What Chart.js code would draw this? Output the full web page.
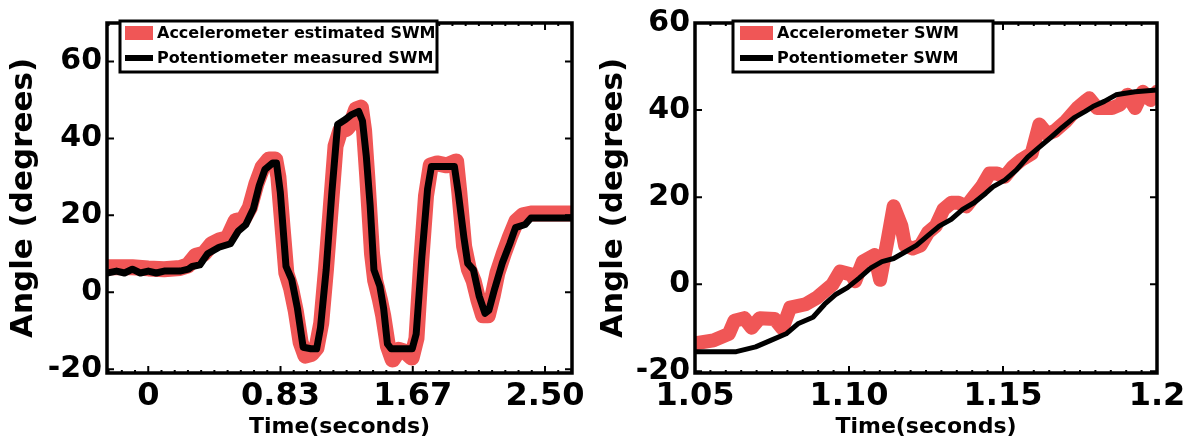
<!DOCTYPE html>
<html>
<head>
<meta charset="utf-8">
<script src="https://cdn.jsdelivr.net/npm/chart.js@4.4.0/dist/chart.umd.min.js"></script>
<style>
  html, body { margin: 0; padding: 0; background: #fff; }
  #wrap { position: relative; width: 1193px; height: 445px; }
  #c1 { position: absolute; left: 0; top: 0; }
  #c2 { position: absolute; left: 590px; top: 0; }
</style>
</head>
<body>
<div id="wrap">
  <canvas id="c1" width="590" height="445"></canvas>
  <canvas id="c2" width="603" height="445"></canvas>
</div>
<script>
// left panel: whole trial
const leftTicksX = [0, 0.8333, 1.6667, 2.5];
const leftTickLabelsX = ['0', '0.83', '1.67', '2.50'];
const leftTicksY = [-20, 0, 20, 40, 60];

const leftAccT = [-0.26, -0.1, 0.0, 0.1, 0.2, 0.25, 0.3, 0.35, 0.4, 0.45, 0.5, 0.55, 0.6, 0.64, 0.68, 0.72, 0.76, 0.8,
  0.82, 0.85, 0.87, 0.9, 0.93, 0.96, 0.99, 1.03, 1.06, 1.09, 1.12, 1.15, 1.18, 1.21, 1.25, 1.28, 1.31, 1.34, 1.36,
  1.38, 1.41, 1.43, 1.46, 1.48, 1.51, 1.54, 1.58, 1.62, 1.66, 1.69, 1.72, 1.75, 1.78, 1.82, 1.88, 1.94, 1.96, 1.99,
  2.02, 2.05, 2.08, 2.11, 2.14, 2.17, 2.2, 2.24, 2.28, 2.32, 2.36, 2.42, 2.68];
const leftAccDeg = [6.5, 6.5, 6.2, 6.0, 6.3, 7.0, 9.5, 10.0, 12.5, 13.5, 14.0, 18.5, 19.0, 22.0, 28.0, 32.5, 34.5, 34.5,
  30.0, 15.0, 5.0, 1.0, -5.0, -13.0, -16.5, -16.0, -14.5, -8.0, 6.0, 22.0, 38.0, 42.0, 42.5, 44.0, 47.5, 48.0, 42.0,
  30.0, 10.0, 3.0, -2.0, -6.0, -14.0, -17.5, -15.0, -15.5, -17.0, -12.0, 8.0, 25.0, 33.0, 33.5, 33.0, 34.0, 26.0, 12.0,
  6.0, 3.0, -2.0, -6.0, -6.0, -1.0, 5.0, 10.0, 14.5, 18.5, 20.0, 20.5, 20.5];

const leftPotT = [-0.26, -0.2, -0.15, -0.1, -0.05, 0, 0.05, 0.1, 0.15, 0.2, 0.253, 0.277, 0.325, 0.374, 0.446, 0.518,
  0.567, 0.615, 0.663, 0.699, 0.735, 0.784, 0.808, 0.832, 0.868, 0.904, 0.94, 0.976, 1.025, 1.061, 1.085, 1.121,
  1.157, 1.193, 1.242, 1.278, 1.326, 1.35, 1.374, 1.398, 1.422, 1.459, 1.483, 1.507, 1.531, 1.627, 1.663, 1.688,
  1.724, 1.76, 1.784, 1.844, 1.929, 1.953, 1.989, 2.013, 2.049, 2.085, 2.122, 2.146, 2.182, 2.23, 2.278, 2.314,
  2.375, 2.411, 2.68];
const leftPotDeg = [5, 5.5, 5, 6, 5, 5.5, 5, 5.5, 5.5, 5.5, 6, 6.7, 7.1, 10, 11.7, 12.6, 15.9, 17.6, 21.8, 27.7, 31.9,
  33.6, 33.6, 26, 6.7, 3.3, -4.2, -14.3, -14.7, -14.7, -9.3, 5.8, 26, 43.6, 44.9, 46.1, 47, 44.5, 35.3, 22.7, 5.8,
  1.6, -4.2, -13.4, -14.7, -14.7, -14.7, -10.9, 9.2, 26.8, 32.7, 32.7, 32.7, 26, 14.2, 7.5, 5.8, -1, -5.5, -4.7, 0.8,
  7.5, 12.6, 16.8, 17.6, 19.3, 19.3];

// right panel: zoom on the second swing
const rightTicksX = [1.05, 1.10, 1.15, 1.2];
const rightTickLabelsX = ['1.05', '1.10', '1.15', '1.2'];
const rightTicksY = [-20, 0, 20, 40, 60];

const rightAccT = [1.05, 1.056, 1.061, 1.0628, 1.066, 1.0684, 1.071, 1.0759, 1.0784, 1.0809, 1.0859, 1.0896, 1.0921,
  1.0946, 1.0971, 1.1008, 1.102, 1.1045, 1.1083, 1.1101, 1.1126, 1.1145, 1.117, 1.1182, 1.1207, 1.1232, 1.1257,
  1.1282, 1.1307, 1.1332, 1.1356, 1.1381, 1.1406, 1.1431, 1.1456, 1.1481, 1.1506, 1.1531, 1.1556, 1.1593, 1.1618,
  1.1643, 1.1668, 1.1705, 1.1742, 1.1767, 1.178, 1.1805, 1.1854, 1.1879, 1.1904, 1.1929, 1.1954, 1.1979, 1.2];
const rightAccDeg = [-13.6, -12.9, -11.4, -8.4, -7.8, -10, -7.8, -8.0, -10.2, -5.4, -4.6, -3.1, -1.6, -0.1, 2.9, 2.2,
  0.7, 5.2, 6.7, 1.0, 10.4, 17.9, 13.4, 8.9, 8.2, 8.9, 11.9, 13.4, 17.2, 18.7, 18.7, 17.9, 20.2, 22.4, 25.4, 25.4,
  24.7, 26.9, 28.4, 30, 36.7, 34.5, 35.2, 37.5, 40.5, 42, 42.7, 40.5, 40.5, 41.2, 43.5, 40.5, 44.2, 42.3, 44.2];

const rightPotT = [1.05, 1.0634, 1.0697, 1.0746, 1.0796, 1.0834, 1.0883, 1.0921, 1.0958, 1.0995, 1.1033, 1.107,
  1.1107, 1.1145, 1.1182, 1.1219, 1.1257, 1.1294, 1.1332, 1.1369, 1.1406, 1.1444, 1.1468, 1.1506, 1.1543, 1.158,
  1.1618, 1.1655, 1.1692, 1.173, 1.1767, 1.1792, 1.1829, 1.1867, 1.1892, 1.1929, 1.2];
const rightPotDeg = [-15.5, -15.5, -14.4, -12.9, -11.4, -9.1, -7.6, -4.6, -2.3, -0.8, 1.4, 3.7, 5.2, 5.9, 7.4, 8.9,
  11.2, 13.4, 14.9, 17.2, 18.7, 20.9, 22.4, 23.9, 26.2, 29.2, 31.5, 33.7, 36, 38.2, 39.7, 40.8, 42, 43.5, 43.8,
  44.2, 44.6];

const RED = '#F05656';

Chart.defaults.font.family = '"DejaVu Sans", sans-serif';
Chart.defaults.font.weight = 'bold';
Chart.defaults.color = '#000';

function pts(t, d) {
  return t.map((v, i) => ({x: v, y: d[i]}));
}

// matlab style box with inward ticks
const frame = {
  id: 'frame',
  afterDatasetsDraw(chart, args, o) {
    const {ctx, chartArea: a, scales: {x, y}} = chart;
    ctx.save();
    ctx.strokeStyle = '#000';
    ctx.lineWidth = 2;
    ctx.beginPath();
    const n0 = Math.ceil(x.min / o.minorStep - 1e-6), n1 = Math.floor(x.max / o.minorStep + 1e-6);
    for (let n = n0; n <= n1; n++) {
      const px = x.getPixelForValue(n * o.minorStep);
      ctx.moveTo(px, a.bottom); ctx.lineTo(px, a.bottom - 3);
      ctx.moveTo(px, a.top); ctx.lineTo(px, a.top + 3);
    }
    x.ticks.forEach(t => {
      const px = x.getPixelForValue(t.value);
      ctx.moveTo(px, a.bottom); ctx.lineTo(px, a.bottom - 7);
      ctx.moveTo(px, a.top); ctx.lineTo(px, a.top + 7);
    });
    y.ticks.forEach(t => {
      const py = y.getPixelForValue(t.value);
      ctx.moveTo(a.left, py); ctx.lineTo(a.left + 7, py);
      ctx.moveTo(a.right, py); ctx.lineTo(a.right - 7, py);
    });
    ctx.stroke();
    ctx.lineWidth = 3.5;
    ctx.strokeRect(a.left, a.top, a.right - a.left, a.bottom - a.top);
    ctx.restore();
  }
};

const boxLegend = {
  id: 'boxLegend',
  afterDraw(chart, args, o) {
    const {ctx, chartArea: a} = chart;
    const x0 = a.left + o.dx, y0 = 21, h = 51;
    ctx.save();
    ctx.fillStyle = '#fff';
    ctx.fillRect(x0, y0, o.w, h);
    ctx.lineWidth = 3;
    ctx.strokeStyle = '#000';
    ctx.strokeRect(x0, y0, o.w, h);
    chart.data.datasets.forEach((ds, i) => {
      const cy = y0 + 12 + i * 25;
      ctx.beginPath();
      ctx.moveTo(x0 + o.s0, cy);
      ctx.lineTo(x0 + o.s1, cy);
      ctx.lineCap = 'butt';
      ctx.lineWidth = i === 0 ? 14 : 6;
      ctx.strokeStyle = ds.borderColor;
      ctx.stroke();
      ctx.fillStyle = '#000';
      ctx.font = 'bold 16px "DejaVu Sans"';
      ctx.textBaseline = 'middle';
      ctx.fillText(ds.label, x0 + o.tx, cy + 1);
    });
    ctx.restore();
  }
};

function makeChart(id, o) {
  return new Chart(document.getElementById(id), {
    type: 'line',
    data: {
      datasets: [{
        label: o.labels[0],
        data: pts(o.accT, o.accD),
        borderColor: RED,
        borderWidth: o.redW,
        order: 2,
        clip: 0
      }, {
        label: o.labels[1],
        data: pts(o.potT, o.potD),
        borderColor: '#000',
        borderWidth: o.blackW,
        order: 1,
        clip: 0
      }]
    },
    options: {
      responsive: false,
      animation: false,
      layout: {padding: {left: 0, right: o.padRight, top: 13, bottom: 0}},
      elements: {
        point: {radius: 0},
        line: {tension: 0, borderJoinStyle: 'round', borderCapStyle: 'round'}
      },
      plugins: {
        legend: {display: false},
        tooltip: {enabled: false},
        frame: {minorStep: o.minorStep},
        boxLegend: o.legend
      },
      scales: {
        x: {
          type: 'linear',
          min: o.xMin, max: o.xMax,
          grid: {display: false, drawTicks: false},
          border: {display: false},
          afterBuildTicks: s => { s.ticks = o.ticksX.map(v => ({value: v})); },
          afterFit: s => { s.height = 72; },
          ticks: {
            font: {size: 32, weight: 'bold'},
            padding: 4, maxRotation: 0, autoSkip: false,
            callback: (v, i) => o.tickLabelsX[i]
          },
          title: {
            display: true, text: 'Time(seconds)',
            font: {size: 22, weight: 'bold', lineHeight: 1},
            padding: {top: 0, bottom: 7}
          }
        },
        y: {
          min: o.yMin, max: o.yMax,
          grid: {display: false, drawTicks: false},
          border: {display: false},
          afterBuildTicks: s => { s.ticks = o.ticksY.map(v => ({value: v})); },
          afterFit: s => { s.width = o.yWidth; },
          ticks: {font: {size: 30, weight: 'bold'}, padding: 5, autoSkip: false},
          title: {
            display: true, text: 'Angle (degrees)',
            font: {size: 31, weight: 'bold', lineHeight: 1},
            padding: {top: 8, bottom: 0}
          }
        }
      }
    },
    plugins: [frame, boxLegend]
  });
}

makeChart('c1', {
  labels: ['Accelerometer estimated SWM', 'Potentiometer measured SWM'],
  accT: leftAccT, accD: leftAccDeg, potT: leftPotT, potD: leftPotDeg,
  redW: 16, blackW: 7,
  xMin: -0.26, xMax: 2.67, yMin: -21, yMax: 70,
  ticksX: leftTicksX, tickLabelsX: leftTickLabelsX, ticksY: leftTicksY,
  minorStep: 0.8333 / 10,
  yWidth: 107, padRight: 18,
  legend: {dx: 13, w: 317, s0: 5, s1: 33, tx: 37}
});

makeChart('c2', {
  labels: ['Accelerometer SWM', 'Potentiometer SWM'],
  accT: rightAccT, accD: rightAccDeg, potT: rightPotT, potD: rightPotDeg,
  redW: 14, blackW: 5,
  xMin: 1.05, xMax: 1.2, yMin: -20.4, yMax: 60,
  ticksX: rightTicksX, tickLabelsX: rightTickLabelsX, ticksY: rightTicksY,
  minorStep: 0.005,
  yWidth: 105, padRight: 36,
  legend: {dx: 38, w: 260, s0: 7, s1: 40, tx: 44}
});
</script>
</body>
</html>
